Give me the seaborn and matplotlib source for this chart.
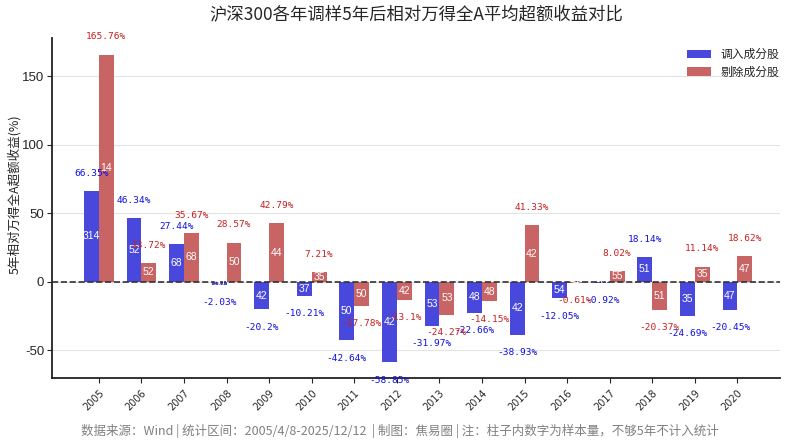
import pandas as pd
import matplotlib
matplotlib.use('Agg')
import matplotlib.pyplot as plt
import seaborn as sns

# data
years = [str(y) for y in range(2005, 2021)]
added_excess = [66.35, 46.34, 27.44, -2.03, -20.2, -10.21, -42.64, -58.85,
                -31.97, -22.66, -38.93, -12.05, -0.92, 18.14, -24.69, -20.45]
removed_excess = [165.76, 13.72, 35.67, 28.57, 42.79, 7.21, -17.78, -13.1,
                  -24.27, -14.15, 41.33, -0.61, 8.02, -20.37, 11.14, 18.62]
added_n = [314, 52, 68, 50, 42, 37, 50, 42, 53, 48, 42, 54, 55, 51, 35, 47]
removed_n = [14, 52, 68, 50, 44, 35, 50, 42, 53, 48, 42, 54, 55, 51, 35, 47]
series_names = ['调入成分股', '剔除成分股']

sns.set_style('ticks')
plt.rcParams['font.family'] = ['Noto Sans CJK SC', 'DejaVu Sans']
plt.rcParams['axes.unicode_minus'] = False

df = pd.DataFrame({
    'year': years * 2,
    'excess': added_excess + removed_excess,
    'n': added_n + removed_n,
    'type': [series_names[0]] * len(years) + [series_names[1]] * len(years),
})

bar_colors = {series_names[0]: '#4848dc', series_names[1]: '#c86464'}
text_colors = ['#1010e0', '#c82020']

fig, ax = plt.subplots(figsize=(8, 4.47), dpi=100)
sns.barplot(data=df, x='year', y='excess', hue='type', palette=bar_colors,
            width=0.7, ax=ax, saturation=1, edgecolor='none')

ax.axhline(0, color='#333333', linestyle='--', linewidth=1.2, zorder=3)
ax.yaxis.grid(True, color='#e3e3e3', linewidth=0.8)
ax.set_axisbelow(True)

counts = [added_n, removed_n]
values = [added_excess, removed_excess]
for k, cont in enumerate(ax.containers):
    for i, bar in enumerate(cont):
        v = values[k][i]
        xc = bar.get_x() + bar.get_width() / 2
        off = 13 if v >= 0 else -13
        ax.text(xc, v + off, f'{v:g}%', ha='center', va='center',
                color=text_colors[k], fontsize=6.8, family='DejaVu Sans Mono',
                zorder=5)
        ax.text(xc, v / 2, str(counts[k][i]), ha='center', va='center',
                color='white', fontsize=7.5, family='Liberation Sans', zorder=5)

ax.set_ylim(-70, 178)
ax.set_xlim(-1.1, 16)
ax.set_yticks([-50, 0, 50, 100, 150])
ax.set_xlabel('')
ax.set_ylabel('5年相对万得全A超额收益(%)', fontsize=9)
ax.yaxis.set_label_coords(-0.043, 0.54)
ax.set_title('沪深300各年调样5年后相对万得全A平均超额收益对比', fontsize=12.5, pad=13)
plt.setp(ax.get_xticklabels(), rotation=45, fontsize=7, ha='right',
         rotation_mode='anchor', family='DejaVu Sans')
plt.setp(ax.get_yticklabels(), family='Liberation Sans')
ax.tick_params(axis='y', labelsize=9.5, pad=2)
for side in ['top', 'right']:
    ax.spines[side].set_visible(False)
for side in ['left', 'bottom']:
    ax.spines[side].set_color('#222222')
    ax.spines[side].set_linewidth(1.3)

leg = ax.legend(frameon=False, loc='upper right', fontsize=8.5,
                handlelength=2.0, borderaxespad=0, labelspacing=0.4,
                bbox_to_anchor=(1.005, 0.985))

fig.text(0.5, 0.037, '数据来源：Wind | 统计区间：2005/4/8-2025/12/12  | 制图：焦易圈 | 注：柱子内数字为样本量，不够5年不计入统计',
         ha='center', va='center', color='#808080', fontsize=9)

fig.subplots_adjust(left=0.065, right=0.975, top=0.915, bottom=0.155)
fig.savefig('out.png', dpi=100)
